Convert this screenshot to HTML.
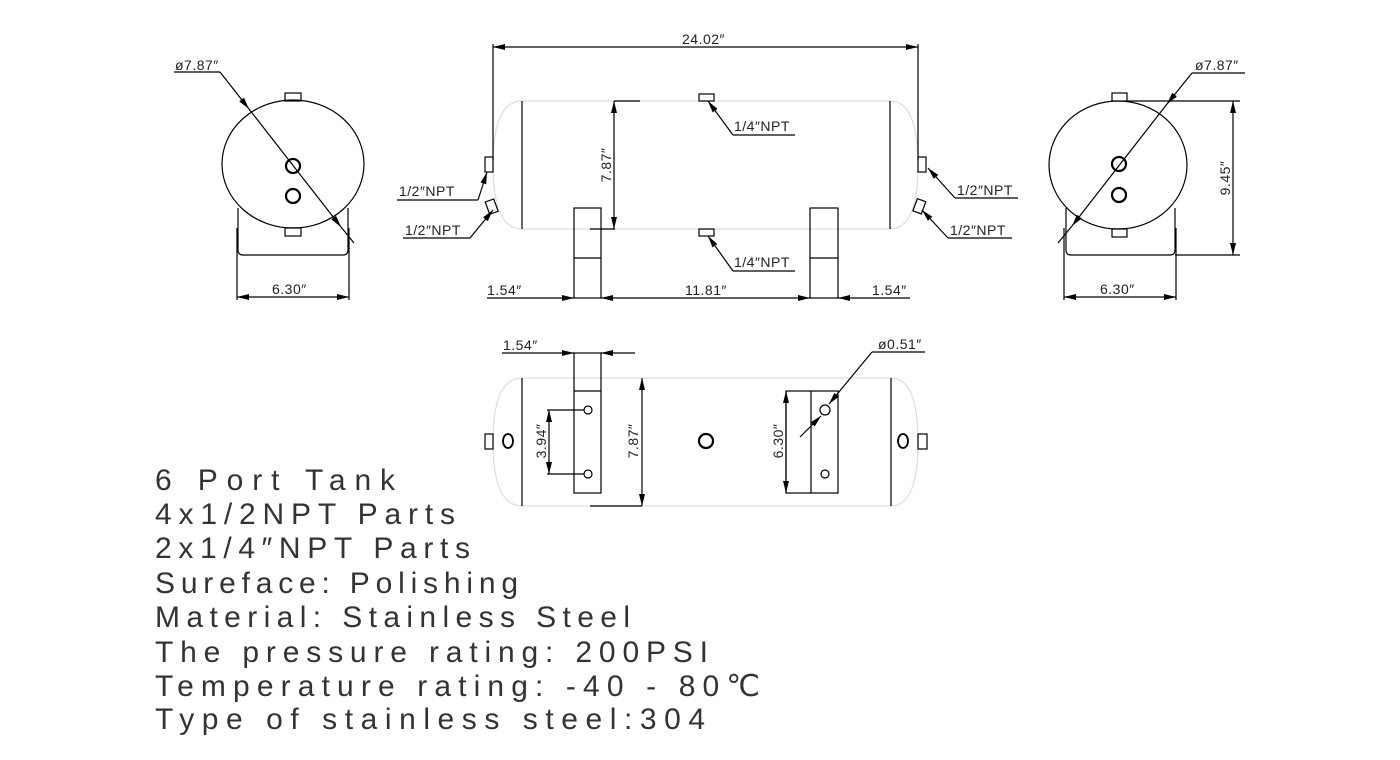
<!DOCTYPE html>
<html><head><meta charset="utf-8"><style>
html,body{margin:0;padding:0;background:#fff;}
svg{display:block;}
text{font-family:"Liberation Sans","DejaVu Sans",sans-serif;fill:#222;}
.s{font-size:14px;letter-spacing:0.5px;}
.big{font-size:30px;}
.big text{fill:#333;}
</style></head><body>
<svg width="1400" height="760" viewBox="0 0 1400 760" xmlns="http://www.w3.org/2000/svg">
<defs>
<marker id="a" viewBox="0 0 12 6" refX="12" refY="3" markerWidth="12" markerHeight="6" markerUnits="userSpaceOnUse" orient="auto-start-reverse"><path d="M0,0 L12,3 L0,6 Z" fill="#000"/></marker>
</defs>
<g fill="none" stroke="#000" stroke-width="1.2">
<!-- LEFT END VIEW -->
<ellipse cx="293" cy="164" rx="71" ry="64"/>
<rect x="285" y="93" width="16" height="8"/>
<rect x="285" y="228" width="16" height="8"/>
<circle cx="293" cy="166" r="7" stroke-width="2.2"/>
<circle cx="293" cy="196" r="7" stroke-width="2.2"/>
<path d="M238,208 V250 Q238,255 243,255 H343 Q348,255 348,250 V208"/>
<line x1="237" y1="228" x2="237" y2="300"/>
<line x1="349" y1="228" x2="349" y2="300"/>
<line x1="237" y1="297" x2="349" y2="297" marker-start="url(#a)" marker-end="url(#a)"/>
<line x1="174" y1="72" x2="220" y2="72"/>
<line x1="220" y1="72" x2="249" y2="109" marker-end="url(#a)"/>
<line x1="249" y1="109" x2="341" y2="227" marker-end="url(#a)"/>
<line x1="341" y1="227" x2="354" y2="243"/>

<!-- CENTER SIDE VIEW -->
<path d="M522,101 H890 M522,229 H890 M522,101 Q493,101 493,165 Q493,229 522,229 M890,101 Q918,101 918,165 Q918,229 890,229" stroke="#ddd"/>
<line x1="522" y1="101" x2="522" y2="229"/>
<line x1="890" y1="101" x2="890" y2="229"/>
<line x1="493" y1="44" x2="493" y2="160"/>
<line x1="918" y1="44" x2="918" y2="160"/>
<line x1="493" y1="47" x2="918" y2="47" marker-start="url(#a)" marker-end="url(#a)"/>
<rect x="485" y="157" width="8" height="15"/>
<rect x="487" y="200" width="9" height="13" transform="rotate(-20 492 206)"/>
<rect x="918" y="157" width="8" height="15"/>
<rect x="915" y="200" width="9" height="13" transform="rotate(20 920 206)"/>
<rect x="699" y="94" width="15" height="7"/>
<rect x="699" y="229" width="15" height="7"/>
<line x1="733" y1="135" x2="708" y2="101" marker-end="url(#a)"/>
<line x1="733" y1="135" x2="795" y2="135"/>
<line x1="733" y1="271" x2="708" y2="236" marker-end="url(#a)"/>
<line x1="733" y1="271" x2="795" y2="271"/>
<line x1="614" y1="101" x2="640" y2="101"/>
<line x1="590" y1="229" x2="615" y2="229"/>
<line x1="614" y1="101" x2="614" y2="229" marker-start="url(#a)" marker-end="url(#a)"/>
<rect x="574" y="208" width="27" height="90"/>
<line x1="574" y1="258" x2="601" y2="258"/>
<rect x="810" y="208" width="28" height="90"/>
<line x1="810" y1="258" x2="838" y2="258"/>
<line x1="487" y1="298" x2="574" y2="298" marker-end="url(#a)"/>
<line x1="601" y1="298" x2="810" y2="298" marker-start="url(#a)" marker-end="url(#a)"/>
<line x1="910" y1="298" x2="838" y2="298" marker-end="url(#a)"/>
<line x1="397" y1="200" x2="478" y2="200"/>
<line x1="478" y1="200" x2="487" y2="172" marker-end="url(#a)"/>
<line x1="403" y1="238" x2="470" y2="238"/>
<line x1="470" y1="238" x2="493" y2="210" marker-end="url(#a)"/>
<line x1="955" y1="198" x2="1018" y2="198"/>
<line x1="955" y1="198" x2="928" y2="168" marker-end="url(#a)"/>
<line x1="948" y1="238" x2="1012" y2="238"/>
<line x1="948" y1="238" x2="922" y2="210" marker-end="url(#a)"/>

<!-- RIGHT END VIEW -->
<ellipse cx="1118" cy="165" rx="69" ry="64"/>
<rect x="1112" y="93" width="15" height="8"/>
<rect x="1112" y="229" width="15" height="8"/>
<circle cx="1119" cy="164" r="7" stroke-width="2.2"/>
<circle cx="1119" cy="195" r="7" stroke-width="2.2"/>
<path d="M1066,208 V250 Q1066,255 1071,255 H1170 Q1175,255 1175,250 V208"/>
<line x1="1064" y1="228" x2="1064" y2="300"/>
<line x1="1176" y1="228" x2="1176" y2="300"/>
<line x1="1064" y1="297" x2="1176" y2="297" marker-start="url(#a)" marker-end="url(#a)"/>
<line x1="1127" y1="101" x2="1240" y2="101"/>
<line x1="1175" y1="255" x2="1240" y2="255"/>
<line x1="1233" y1="101" x2="1233" y2="255" marker-start="url(#a)" marker-end="url(#a)"/>
<line x1="1192" y1="73" x2="1245" y2="73"/>
<line x1="1192" y1="73" x2="1167" y2="104" marker-end="url(#a)"/>
<line x1="1167" y1="104" x2="1072" y2="226" marker-end="url(#a)"/>
<line x1="1072" y1="226" x2="1058" y2="243"/>

<!-- BOTTOM VIEW -->
<path d="M522,378 H891 M522,506 H891 M522,378 Q493,378 493,442 Q493,506 522,506 M891,378 Q918,378 918,442 Q918,506 891,506" stroke="#ddd"/>
<line x1="522" y1="378" x2="522" y2="506"/>
<line x1="891" y1="378" x2="891" y2="506"/>
<rect x="485" y="434" width="8" height="15"/>
<ellipse cx="508" cy="441" rx="5" ry="7" stroke-width="1.8"/>
<rect x="918" y="434" width="9" height="15"/>
<ellipse cx="903" cy="441" rx="5" ry="7" stroke-width="1.8"/>
<circle cx="706" cy="441" r="7" stroke-width="2.2"/>
<rect x="574" y="353" width="27" height="140"/>
<line x1="574" y1="391" x2="601" y2="391"/>
<circle cx="588" cy="410" r="4"/>
<circle cx="588" cy="474" r="4"/>
<line x1="547" y1="410" x2="584" y2="410"/>
<line x1="547" y1="474" x2="584" y2="474"/>
<line x1="549" y1="410" x2="549" y2="474" marker-start="url(#a)" marker-end="url(#a)"/>
<line x1="502" y1="353" x2="574" y2="353" marker-end="url(#a)"/>
<line x1="635" y1="353" x2="601" y2="353" marker-end="url(#a)"/>
<line x1="590" y1="506" x2="642" y2="506"/>
<line x1="642" y1="378" x2="642" y2="506" marker-start="url(#a)" marker-end="url(#a)"/>
<rect x="786" y="391" width="52" height="102"/>
<line x1="811" y1="391" x2="811" y2="493"/>
<circle cx="825" cy="410" r="5"/>
<circle cx="825" cy="474" r="4"/>
<line x1="786" y1="391" x2="786" y2="493" marker-start="url(#a)" marker-end="url(#a)"/>
<line x1="872" y1="352" x2="925" y2="352"/>
<line x1="872" y1="352" x2="829" y2="404" marker-end="url(#a)"/>
<line x1="800" y1="437" x2="821" y2="416" marker-end="url(#a)"/>
</g>

<g class="s">
<text x="175" y="70">ø7.87″</text>
<text x="272" y="294">6.30″</text>
<text x="682" y="44">24.02″</text>
<text x="734" y="131">1/4″NPT</text>
<text x="734" y="267">1/4″NPT</text>
<text x="399" y="196">1/2″NPT</text>
<text x="405" y="235">1/2″NPT</text>
<text x="957" y="195">1/2″NPT</text>
<text x="950" y="235">1/2″NPT</text>
<text x="487" y="295">1.54″</text>
<text x="685" y="295">11.81″</text>
<text x="872" y="295">1.54″</text>
<text x="1100" y="294">6.30″</text>
<text x="1195" y="70">ø7.87″</text>
<text x="503" y="350">1.54″</text>
<text x="878" y="349">ø0.51″</text>
<text transform="translate(611,165) rotate(-90)" text-anchor="middle">7.87″</text>
<text transform="translate(1230,178) rotate(-90)" text-anchor="middle">9.45″</text>
<text transform="translate(546,441) rotate(-90)" text-anchor="middle">3.94″</text>
<text transform="translate(638,441) rotate(-90)" text-anchor="middle">7.87″</text>
<text transform="translate(783,441) rotate(-90)" text-anchor="middle">6.30″</text>
</g>

<g class="big">
<text x="155" y="490" textLength="240" lengthAdjust="spacing">6 Port Tank</text>
<text x="155" y="524" textLength="300" lengthAdjust="spacing">4x1/2NPT Parts</text>
<text x="155" y="558" textLength="315" lengthAdjust="spacing">2x1/4″NPT Parts</text>
<text x="155" y="593" textLength="363" lengthAdjust="spacing">Sureface: Polishing</text>
<text x="155" y="627" textLength="475" lengthAdjust="spacing">Material: Stainless Steel</text>
<text x="155" y="662" textLength="553" lengthAdjust="spacing">The pressure rating: 200PSI</text>
<text x="155" y="696" textLength="605" lengthAdjust="spacing">Temperature rating: -40 - 80℃</text>
<text x="155" y="729" textLength="550" lengthAdjust="spacing">Type of stainless steel:304</text>
</g>
</svg>
</body></html>
